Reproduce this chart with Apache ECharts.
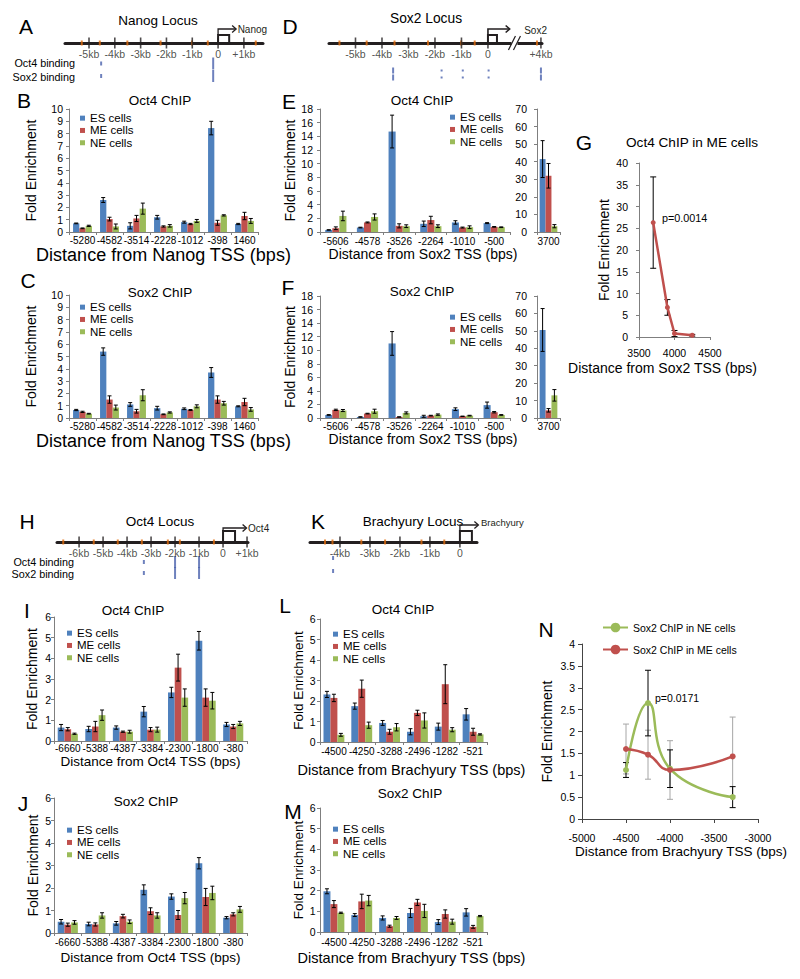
<!DOCTYPE html>
<html><head><meta charset="utf-8">
<script src="https://cdn.jsdelivr.net/npm/echarts@6/dist/echarts.min.js"></script>
<style>html,body{margin:0;padding:0;background:#fff}#c{width:800px;height:979px}</style>
</head><body><div id="c"></div>
<script>
// ================= DATA =================
// Nanog locus primers (bp from TSS) - panels A, B, C
const nanogCats = ['-5280','-4582','-3514','-2228','-1012','-398','1460'];
const nanogOct4_ES    = [0.70, 2.60, 0.50, 1.20, 0.80, 8.45, 0.65];
const nanogOct4_ESerr = [0.03, 0.20, 0.25, 0.15, 0.08, 0.55, 0.05];
const nanogOct4_ME    = [0.30, 1.05, 1.10, 0.45, 0.65, 0.75, 1.30];
const nanogOct4_MEerr = [0.03, 0.15, 0.25, 0.05, 0.05, 0.20, 0.30];
const nanogOct4_NE    = [0.50, 0.45, 1.90, 0.50, 0.90, 1.35, 0.90];
const nanogOct4_NEerr = [0.05, 0.20, 0.45, 0.10, 0.12, 0.05, 0.20];
const nanogSox2_ES    = [0.65, 5.40, 1.10, 0.80, 0.75, 3.70, 0.95];
const nanogSox2_ESerr = [0.05, 0.30, 0.15, 0.15, 0.07, 0.40, 0.04];
const nanogSox2_ME    = [0.50, 1.50, 0.55, 0.30, 0.65, 1.50, 1.30];
const nanogSox2_MEerr = [0.05, 0.30, 0.15, 0.03, 0.04, 0.30, 0.30];
const nanogSox2_NE    = [0.35, 0.85, 1.85, 0.45, 0.95, 1.20, 0.70];
const nanogSox2_NEerr = [0.03, 0.20, 0.45, 0.05, 0.12, 0.15, 0.15];

// Sox2 locus - panels D, E, F
const sox2Cats    = ['-5606','-4578','-3526','-2264','-1010','-500'];
const sox2FarCats = ['3700'];
const sox2Oct4_ES    = [0.30, 0.65, 14.7, 1.20, 1.40, 1.30];
const sox2Oct4_ESerr = [0.03, 0.05, 2.40, 0.40, 0.25, 0.07];
const sox2Oct4_ME    = [0.55, 1.40, 0.90, 1.75, 0.65, 0.75];
const sox2Oct4_MEerr = [0.20, 0.07, 0.30, 0.55, 0.07, 0.05];
const sox2Oct4_NE    = [2.35, 2.20, 0.85, 0.85, 0.70, 0.70];
const sox2Oct4_NEerr = [0.70, 0.45, 0.20, 0.20, 0.20, 0.05];
const sox2Oct4Far_ES = [41.5], sox2Oct4Far_ESerr = [10.5];
const sox2Oct4Far_ME = [32.0], sox2Oct4Far_MEerr = [7.0];
const sox2Oct4Far_NE = [3.3],  sox2Oct4Far_NEerr = [0.9];
const sox2Sox2_ES    = [0.45, 0.15, 11.0, 0.25, 1.30, 1.90];
const sox2Sox2_ESerr = [0.05, 0.03, 1.75, 0.15, 0.20, 0.45];
const sox2Sox2_ME    = [1.20, 0.65, 0.15, 0.35, 0.25, 0.85];
const sox2Sox2_MEerr = [0.10, 0.05, 0.03, 0.05, 0.03, 0.10];
const sox2Sox2_NE    = [1.10, 1.00, 0.75, 0.50, 0.35, 0.45];
const sox2Sox2_NEerr = [0.15, 0.30, 0.15, 0.10, 0.05, 0.05];
const sox2Sox2Far_ES = [50.5], sox2Sox2Far_ESerr = [12.3];
const sox2Sox2Far_ME = [4.4],  sox2Sox2Far_MEerr = [1.0];
const sox2Sox2Far_NE = [13.0], sox2Sox2Far_NEerr = [3.3];

// Panel G: Oct4 ChIP in ME cells
const gDist  = [3700, 3900, 4000, 4250];
const gME    = [26.3, 6.8, 0.8, 0.4];
const gMEerr = [10.5, 1.8, 0.7, 0.2];

// Oct4 locus - panels H, I, J
const oct4Cats = ['-6660','-5388','-4387','-3384','-2300','-1800','-380'];
const oct4Oct4_ES    = [0.65, 0.58, 0.65, 1.42, 2.35, 4.85, 0.80];
const oct4Oct4_ESerr = [0.15, 0.13, 0.08, 0.25, 0.25, 0.45, 0.10];
const oct4Oct4_ME    = [0.57, 0.70, 0.45, 0.55, 3.55, 2.10, 0.70];
const oct4Oct4_MEerr = [0.08, 0.25, 0.03, 0.10, 0.65, 0.42, 0.10];
const oct4Oct4_NE    = [0.35, 1.25, 0.45, 0.55, 2.10, 1.95, 0.85];
const oct4Oct4_NEerr = [0.03, 0.25, 0.07, 0.12, 0.42, 0.40, 0.10];
const oct4Sox2_ES    = [0.50, 0.40, 0.43, 1.92, 1.62, 3.10, 0.68];
const oct4Sox2_ESerr = [0.10, 0.08, 0.08, 0.22, 0.12, 0.25, 0.05];
const oct4Sox2_ME    = [0.37, 0.38, 0.75, 0.97, 0.80, 1.60, 0.83];
const oct4Sox2_MEerr = [0.07, 0.07, 0.08, 0.15, 0.20, 0.38, 0.07];
const oct4Sox2_NE    = [0.47, 0.78, 0.50, 0.78, 1.55, 1.78, 1.05];
const oct4Sox2_NEerr = [0.08, 0.12, 0.08, 0.12, 0.25, 0.30, 0.13];

// Brachyury locus - panels K, L, M
const brachCats = ['-4500','-4250','-3288','-2496','-1282','-521'];
const brachOct4_ES    = [2.32, 1.75, 0.93, 0.50, 0.75, 1.35];
const brachOct4_ESerr = [0.15, 0.15, 0.12, 0.15, 0.17, 0.28];
const brachOct4_ME    = [2.15, 2.60, 0.50, 1.42, 2.82, 0.50];
const brachOct4_MEerr = [0.18, 0.42, 0.12, 0.13, 0.95, 0.17];
const brachOct4_NE    = [0.35, 0.82, 0.72, 1.05, 0.60, 0.37];
const brachOct4_NEerr = [0.07, 0.15, 0.18, 0.37, 0.10, 0.03];
const brachSox2_ES    = [1.97, 0.82, 0.68, 0.92, 0.48, 0.95];
const brachSox2_ESerr = [0.12, 0.07, 0.10, 0.22, 0.12, 0.18];
const brachSox2_ME    = [1.35, 1.48, 0.28, 1.43, 0.87, 0.25];
const brachSox2_MEerr = [0.17, 0.35, 0.05, 0.15, 0.20, 0.07];
const brachSox2_NE    = [0.93, 1.52, 0.68, 1.02, 0.50, 0.77];
const brachSox2_NEerr = [0.03, 0.25, 0.07, 0.32, 0.12, 0.03];

// Panel N
const nDist  = [-4500, -4250, -4000, -3288];
const nNE    = [1.12, 2.65, 1.15, 0.50];
const nNEerr = [0.17, 0.75, 0.43, 0.24];
const nME    = [1.60, 1.47, 1.12, 1.43];
const nMEerr = [0.57, 0.56, 0.67, 0.90];

// Locus schematics: tick positions (kb) and binding sites [kb, strength]
const nanogTicks = [-5, -4, -3, -2, -1, 0, 1];
const sox2Ticks  = [-5, -4, -3, -2, -1, 0, 4];
const oct4Ticks  = [-6, -5, -4, -3, -2, -1, 0, 1];
const brachTicks = [-4, -3, -2, -1, 0];
const nanogOct4Bind = [[-4.53, 1], [-0.19, 3]];
const nanogSox2Bind = [[-4.53, 1], [-0.19, 3]];
const sox2Oct4Bind  = [[-3.58, 2], [-1.75, 0], [-0.95, 0], [0.05, 0], [4.0, 2]];
const sox2Sox2Bind  = [[-3.58, 2], [-1.75, 0], [-0.95, 0], [0.05, 0], [4.0, 2]];
const oct4Oct4Bind  = [[-3.3, 1], [-2.0, 3], [-1.0, 3]];
const oct4Sox2Bind  = [[-3.3, 1], [-2.0, 3], [-1.0, 3]];
const brachOct4Bind = [[-4.23, 1]];
const brachSox2Bind = [[-4.23, 1]];

// ================= CHART =================
const FONT = '"Liberation Sans", Arial, Helvetica, sans-serif';
const AX = '#7f7f7f';
const C_ES = '#4f81bd', C_ME = '#c0504d', C_NE = '#9bbb59';
const INK = '#231f20';
const DASH_H = [2, 4, 6, 12];
const grids = [], xAxes = [], yAxes = [], series = [], legends = [], gfx = [];

function addGrid(l, t, w, h) { grids.push({left: l, top: t, width: w, height: h}); return grids.length - 1; }
const tickLabel = v => v === 0 ? '0' : (v > 0 ? '+' + v + 'kb' : v + 'kb');
const plainNum = v => String(v);

function errRender(k, n, gapFrac, color, capW) {
  return function (params, api) {
    const i = api.value(0), v = api.value(1), e = api.value(2);
    const band = api.size([1, 0])[0];
    const bw = band * (1 - gapFrac) / n;
    const x = api.coord([i, v])[0] + (k - (n - 1) / 2) * bw;
    const yt = api.coord([i, v + e])[1], yb = api.coord([i, Math.max(0, v - e)])[1];
    const c = capW || 2, st = {stroke: color || '#000', lineWidth: 1};
    return {type: 'group', children: [
      {type: 'line', shape: {x1: x, y1: yt, x2: x, y2: yb}, style: st},
      {type: 'line', shape: {x1: x - c, y1: yt, x2: x + c, y2: yt}, style: st},
      {type: 'line', shape: {x1: x - c, y1: yb, x2: x + c, y2: yb}, style: st}
    ]};
  };
}
function xyErrRender(color) {
  return function (params, api) {
    const x = api.value(0), v = api.value(1), e = api.value(2);
    const pt = api.coord([x, v + e]), pb = api.coord([x, Math.max(0, v - e)]);
    const st = {stroke: color, lineWidth: 1}, c = 3;
    return {type: 'group', children: [
      {type: 'line', shape: {x1: pt[0], y1: pt[1], x2: pb[0], y2: pb[1]}, style: st},
      {type: 'line', shape: {x1: pt[0] - c, y1: pt[1], x2: pt[0] + c, y2: pt[1]}, style: st},
      {type: 'line', shape: {x1: pb[0] - c, y1: pb[1], x2: pb[0] + c, y2: pb[1]}, style: st}
    ]};
  };
}

function barPanel(p) {
  const gi = addGrid.apply(null, p.rect);
  xAxes.push({type: 'category', gridIndex: gi, data: p.cats,
    axisLine: {show: true, lineStyle: {color: AX}}, axisTick: {show: true, length: 3, lineStyle: {color: AX}},
    axisLabel: {interval: 0, fontSize: 10, color: '#000', margin: p.labelMargin, fontFamily: FONT},
    name: p.xName || '', nameLocation: 'middle', nameGap: p.xNameGap || 10,
    nameTextStyle: {fontSize: p.xNameSize || 14, color: '#000', fontFamily: FONT, padding: p.xNamePad || 0}});
  yAxes.push({type: 'value', gridIndex: gi, min: 0, max: p.yMax, interval: p.yInt,
    axisLine: {show: true, lineStyle: {color: AX}}, axisTick: {show: true, length: 3, lineStyle: {color: AX}},
    splitLine: {show: false}, axisLabel: {fontSize: 10.5, color: '#000', margin: p.yLabelMargin, fontFamily: FONT},
    name: p.yName || '', nameLocation: 'middle', nameRotate: 90, nameGap: p.yNameGap || 10,
    nameTextStyle: {fontSize: p.yNameSize || 14, color: '#000', fontFamily: FONT}});
  const names = ['ES cells', 'ME cells', 'NE cells'], cols = [C_ES, C_ME, C_NE];
  p.sets.forEach((s, k) => {
    series.push({type: 'bar', name: names[k], xAxisIndex: gi, yAxisIndex: gi, data: s[0],
      itemStyle: {color: cols[k]}, barGap: '0%', barCategoryGap: (p.gap * 100) + '%', z: 2, silent: true});
  });
  p.sets.forEach((s, k) => {
    series.push({type: 'custom', xAxisIndex: gi, yAxisIndex: gi, renderItem: errRender(k, 3, p.gap),
      data: s[0].map((v, i) => [i, v, s[1][i]]), z: 5, silent: true, clip: false});
  });
  if (p.legend) legends.push({data: names, orient: 'vertical', left: p.legend[0], top: p.legend[1], padding: 0,
    itemWidth: 5, itemHeight: 5, itemGap: 0, icon: 'rect', selectedMode: false,
    textStyle: {fontSize: 11.5, lineHeight: 12.3, color: '#000', fontFamily: FONT}});
}

function geneRender(g) {
  return function (params, api) {
    const o = api.coord([0, 0]);
    const bx = api.coord([g.boxEnd, 0])[0];
    const ax = api.coord([g.arrowEnd, 0])[0];
    const ry = o[1] + g.rise, top = o[1] - g.boxH;
    const st = {fill: null, stroke: INK, lineWidth: g.lw || 1.3};
    const ch = [
      {type: 'rect', shape: {x: o[0], y: top, width: bx - o[0], height: g.boxH}, style: {fill: '#fff', stroke: INK, lineWidth: 2}},
      {type: 'polyline', shape: {points: [[o[0], top], [o[0], ry], [ax, ry]]}, style: st},
      {type: 'polyline', shape: {points: [[ax - 3.5, ry - 3.5], [ax + 0.5, ry], [ax - 3.5, ry + 3.5]]}, style: st},
      {type: 'text', x: ax + g.dx, y: ry + g.dy, style: {text: g.name, font: g.fs + 'px ' + FONT, fontSize: g.fs, fill: INK,
        textAlign: 'left', textVerticalAlign: 'middle', align: 'left', verticalAlign: 'middle'}}
    ];
    if (g.brk != null) {
      const b = api.coord([g.brk, 0])[0];
      ch.push({type: 'rect', shape: {x: b - 3, y: o[1] - 3, width: 6, height: 6}, style: {fill: '#fff'}});
      ch.push({type: 'line', shape: {x1: b - 6, y1: o[1] + 7, x2: b + 1, y2: o[1] - 7}, style: {stroke: INK, lineWidth: 1.2}});
      ch.push({type: 'line', shape: {x1: b - 1, y1: o[1] + 7, x2: b + 6, y2: o[1] - 7}, style: {stroke: INK, lineWidth: 1.2}});
    }
    return {type: 'group', children: ch};
  };
}

function locus(p) {
  const gi = addGrid(p.x0, p.lineY - 25, p.x1 - p.x0, 70);
  const f = p.disp || (v => v);
  xAxes.push({type: 'value', gridIndex: gi, min: p.min, max: p.max,
    axisLine: {show: true, onZero: true, lineStyle: {color: INK, width: 3}},
    axisTick: {show: false}, axisLabel: {show: false}, splitLine: {show: false}});
  yAxes.push({type: 'value', gridIndex: gi, min: -25, max: 45, inverse: true,
    axisLine: {show: false}, axisTick: {show: false}, axisLabel: {show: false}, splitLine: {show: false}});
  const base = {xAxisIndex: gi, yAxisIndex: gi, silent: true, clip: false};
  series.push(Object.assign({type: 'scatter', data: p.ticks.map(t => [f(t), 0]), symbol: 'rect', symbolSize: [1.6, 11],
    itemStyle: {color: INK}, z: 4,
    label: {show: true, position: 'inside', offset: [0, 10.5], fontSize: 10.5, color: INK, fontFamily: FONT,
      formatter: q => tickLabel(p.ticks[q.dataIndex])}}, base));
  series.push(Object.assign({type: 'scatter', data: p.primers.map(c => [f(Number(c) / 1000), 0]), symbol: 'rect',
    symbolSize: [2, 5], itemStyle: {color: '#e26b0a'}, z: 3}, base));
  p.binds.forEach((row, r) => {
    series.push(Object.assign({type: 'scatter', data: row.map(b => [f(b[0]), p.rows[r], b[1]]), symbol: 'rect',
      symbolSize: v => [2, DASH_H[v[2]]], itemStyle: {color: '#4a62ad'}, z: 3}, base));
  });
  series.push(Object.assign({type: 'custom', data: [[0, 0]], renderItem: geneRender(p.gene), z: 5}, base));
}

// ---------- Locus schematics ----------
const sox2Disp = v => v <= 0 ? v : v / 2;
locus({x0: 65, x1: 263, lineY: 43, min: -5.93, max: 1.74, ticks: nanogTicks, primers: nanogCats,
  rows: [20.5, 33], binds: [nanogOct4Bind, nanogSox2Bind],
  gene: {boxEnd: 0.43, boxH: 8, rise: -14, arrowEnd: 0.68, name: 'Nanog', dx: 2, dy: 0, fs: 10}});
locus({x0: 329, x1: 542, lineY: 43, min: -6.0, max: 2.04, ticks: sox2Ticks, primers: sox2Cats.concat(sox2FarCats),
  disp: sox2Disp, rows: [27.5, 34.5], binds: [sox2Oct4Bind, sox2Sox2Bind],
  gene: {boxEnd: 0.34, boxH: 8, rise: -14, arrowEnd: 0.8, name: 'Sox2', dx: 15, dy: 1, fs: 10, lw: 1.6, brk: 1.0}});
locus({x0: 57, x1: 248, lineY: 542, min: -6.92, max: 1.04, ticks: oct4Ticks, primers: oct4Cats,
  rows: [20, 31], binds: [oct4Oct4Bind, oct4Sox2Bind],
  gene: {boxEnd: 0.5, boxH: 11, rise: -14, arrowEnd: 0.96, name: 'Oct4', dx: 2, dy: 0, fs: 10}});
locus({x0: 310, x1: 477, lineY: 542, min: -5.0, max: 0.57, ticks: brachTicks, primers: brachCats,
  rows: [16, 29], binds: [brachOct4Bind, brachSox2Bind],
  gene: {boxEnd: 0.4, boxH: 11, rise: -17, arrowEnd: 0.6, name: 'Brachyury', dx: 3, dy: -3, fs: 9.5}});

// ---------- Bar panels ----------
barPanel({rect: [69, 109, 189, 123], cats: nanogCats,
  sets: [[nanogOct4_ES, nanogOct4_ESerr], [nanogOct4_ME, nanogOct4_MEerr], [nanogOct4_NE, nanogOct4_NEerr]],
  yMax: 10, yInt: 1, gap: 0.30, xName: 'Distance from Nanog TSS (bps)', xNameSize: 18, xNameGap: 11,
  yName: 'Fold Enrichment', yNameGap: 31.5, labelMargin: 3.5, yLabelMargin: 6, legend: [80, 112]});
barPanel({rect: [69, 295, 189, 123], cats: nanogCats,
  sets: [[nanogSox2_ES, nanogSox2_ESerr], [nanogSox2_ME, nanogSox2_MEerr], [nanogSox2_NE, nanogSox2_NEerr]],
  yMax: 10, yInt: 1, gap: 0.30, xName: 'Distance from Nanog TSS (bps)', xNameSize: 18, xNameGap: 12,
  yName: 'Fold Enrichment', yNameGap: 31.5, labelMargin: 3.5, yLabelMargin: 6, legend: [80, 301]});
barPanel({rect: [320, 109, 190, 123], cats: sox2Cats,
  sets: [[sox2Oct4_ES, sox2Oct4_ESerr], [sox2Oct4_ME, sox2Oct4_MEerr], [sox2Oct4_NE, sox2Oct4_NEerr]],
  yMax: 18, yInt: 2, gap: 0.33, xName: 'Distance from Sox2 TSS (bps)', xNameSize: 14, xNameGap: 12.5, xNamePad: [0, 0, 0, 16],
  yName: 'Fold Enrichment', yNameGap: 21, labelMargin: 4.5, yLabelMargin: 7, legend: [450, 111]});
barPanel({rect: [537, 109, 23, 123], cats: sox2FarCats,
  sets: [[sox2Oct4Far_ES, sox2Oct4Far_ESerr], [sox2Oct4Far_ME, sox2Oct4Far_MEerr], [sox2Oct4Far_NE, sox2Oct4Far_NEerr]],
  yMax: 70, yInt: 10, gap: 0.23, labelMargin: 4.5, yLabelMargin: 10});
barPanel({rect: [320, 296, 190, 122], cats: sox2Cats,
  sets: [[sox2Sox2_ES, sox2Sox2_ESerr], [sox2Sox2_ME, sox2Sox2_MEerr], [sox2Sox2_NE, sox2Sox2_NEerr]],
  yMax: 18, yInt: 2, gap: 0.33, xName: 'Distance from Sox2 TSS (bps)', xNameSize: 14, xNameGap: 13.5, xNamePad: [0, 0, 0, 16],
  yName: 'Fold Enrichment', yNameGap: 19.5, labelMargin: 3.5, yLabelMargin: 7, legend: [450, 311]});
barPanel({rect: [537, 296, 23, 122], cats: sox2FarCats,
  sets: [[sox2Sox2Far_ES, sox2Sox2Far_ESerr], [sox2Sox2Far_ME, sox2Sox2Far_MEerr], [sox2Sox2Far_NE, sox2Sox2Far_NEerr]],
  yMax: 70, yInt: 10, gap: 0.23, labelMargin: 3.5, yLabelMargin: 10});
barPanel({rect: [54, 617, 193, 124], cats: oct4Cats,
  sets: [[oct4Oct4_ES, oct4Oct4_ESerr], [oct4Oct4_ME, oct4Oct4_MEerr], [oct4Oct4_NE, oct4Oct4_NEerr]],
  yMax: 6, yInt: 1, gap: 0.27, xName: 'Distance from Oct4 TSS (bps)', xNameSize: 13.5, xNameGap: 13,
  yName: 'Fold Enrichment', yNameGap: 15, labelMargin: 2, yLabelMargin: 3, legend: [67, 627]});
barPanel({rect: [54, 798, 193, 135], cats: oct4Cats,
  sets: [[oct4Sox2_ES, oct4Sox2_ESerr], [oct4Sox2_ME, oct4Sox2_MEerr], [oct4Sox2_NE, oct4Sox2_NEerr]],
  yMax: 6, yInt: 1, gap: 0.27, xName: 'Distance from Oct4 TSS (bps)', xNameSize: 13.5, xNameGap: 17,
  yName: 'Fold Enrichment', yNameGap: 14, labelMargin: 4.5, yLabelMargin: 3, legend: [67, 824]});
barPanel({rect: [320, 619, 167, 123], cats: brachCats,
  sets: [[brachOct4_ES, brachOct4_ESerr], [brachOct4_ME, brachOct4_MEerr], [brachOct4_NE, brachOct4_NEerr]],
  yMax: 6, yInt: 1, gap: 0.25, xName: 'Distance from Brachyury TSS (bps)', xNameSize: 14.5, xNameGap: 20, xNamePad: [0, 0, 0, 16],
  yName: 'Fold Enrichment', yNameSize: 13.5, yNameGap: 13.5, labelMargin: 4, yLabelMargin: 4.5, legend: [333, 628]});
barPanel({rect: [320, 808, 167, 124], cats: brachCats,
  sets: [[brachSox2_ES, brachSox2_ESerr], [brachSox2_ME, brachSox2_MEerr], [brachSox2_NE, brachSox2_NEerr]],
  yMax: 6, yInt: 1, gap: 0.25, xName: 'Distance from Brachyury TSS (bps)', xNameSize: 14.5, xNameGap: 18, xNamePad: [0, 0, 0, 16],
  yName: 'Fold Enrichment', yNameSize: 13.5, yNameGap: 13.5, labelMargin: 5, yLabelMargin: 4.5, legend: [333, 823]});

// ---------- Panel G ----------
(function () {
  const gi = addGrid(639, 163, 71, 174);
  xAxes.push({type: 'value', gridIndex: gi, min: 3500, max: 4500, interval: 500,
    axisLine: {show: true, onZero: false, lineStyle: {color: AX}}, axisTick: {show: true, length: 3, lineStyle: {color: AX}},
    splitLine: {show: false}, axisLabel: {fontSize: 10.5, color: '#000', margin: 10, showMinLabel: true, showMaxLabel: true,
      fontFamily: FONT, formatter: plainNum},
    name: 'Distance from Sox2 TSS (bps)', nameLocation: 'middle', nameGap: 24,
    nameTextStyle: {fontSize: 14, color: '#000', fontFamily: FONT, padding: [0, 24, 0, 0]}});
  yAxes.push({type: 'value', gridIndex: gi, min: 0, max: 40, interval: 5,
    axisLine: {show: true, onZero: false, lineStyle: {color: AX}}, axisTick: {show: true, length: 3, lineStyle: {color: AX}},
    splitLine: {show: false}, axisLabel: {fontSize: 10.5, color: '#000', margin: 11, fontFamily: FONT},
    name: 'Fold Enrichment', nameLocation: 'middle', nameRotate: 90, nameGap: 28,
    nameTextStyle: {fontSize: 14, color: '#000', fontFamily: FONT}});
  series.push({type: 'custom', xAxisIndex: gi, yAxisIndex: gi, renderItem: xyErrRender('#000'),
    data: gDist.map((x, i) => [x, gME[i], gMEerr[i]]), z: 3, silent: true, clip: false});
  series.push({type: 'line', xAxisIndex: gi, yAxisIndex: gi, data: gDist.map((x, i) => [x, gME[i]]),
    lineStyle: {color: C_ME, width: 2.5}, itemStyle: {color: C_ME}, symbol: 'circle', symbolSize: 5, z: 4, silent: true});
})();

// ---------- Panel N ----------
(function () {
  const gi = addGrid(582, 644, 176, 175);
  xAxes.push({type: 'value', gridIndex: gi, min: -5000, max: -3000, interval: 500,
    axisLine: {show: true, onZero: false, lineStyle: {color: '#444'}}, axisTick: {show: true, length: 4, lineStyle: {color: '#444'}},
    splitLine: {show: false}, axisLabel: {fontSize: 10.5, color: '#000', margin: 13.5, showMinLabel: true, showMaxLabel: true,
      fontFamily: FONT, formatter: plainNum},
    name: 'Distance from Brachyury TSS (bps)', nameLocation: 'middle', nameGap: 25,
    nameTextStyle: {fontSize: 13.5, color: '#000', fontFamily: FONT, padding: [0, 0, 0, 22]}});
  yAxes.push({type: 'value', gridIndex: gi, min: 0, max: 4, interval: 0.5,
    axisLine: {show: true, onZero: false, lineStyle: {color: '#444'}}, axisTick: {show: true, length: 4, lineStyle: {color: '#444'}},
    splitLine: {show: false}, axisLabel: {fontSize: 10.5, color: '#000', margin: 7, fontFamily: FONT},
    name: 'Fold Enrichment', nameLocation: 'middle', nameRotate: 90, nameGap: 28,
    nameTextStyle: {fontSize: 14, color: '#000', fontFamily: FONT}});
  series.push({type: 'custom', xAxisIndex: gi, yAxisIndex: gi, renderItem: xyErrRender('#a6a6a6'),
    data: nDist.map((x, i) => [x, nME[i], nMEerr[i]]), z: 3, silent: true, clip: false});
  series.push({type: 'custom', xAxisIndex: gi, yAxisIndex: gi, renderItem: xyErrRender('#000'),
    data: nDist.map((x, i) => [x, nNE[i], nNEerr[i]]), z: 3, silent: true, clip: false});
  series.push({type: 'line', name: 'Sox2 ChIP in NE cells', xAxisIndex: gi, yAxisIndex: gi, smooth: true,
    data: nDist.map((x, i) => [x, nNE[i]]), lineStyle: {color: C_NE, width: 2.5}, itemStyle: {color: C_NE},
    symbol: 'circle', symbolSize: 6, z: 4, silent: true});
  series.push({type: 'line', name: 'Sox2 ChIP in ME cells', xAxisIndex: gi, yAxisIndex: gi, smooth: true,
    data: nDist.map((x, i) => [x, nME[i]]), lineStyle: {color: C_ME, width: 2.5}, itemStyle: {color: C_ME},
    symbol: 'circle', symbolSize: 6, z: 5, silent: true});
  legends.push({data: ['Sox2 ChIP in NE cells', 'Sox2 ChIP in ME cells'], orient: 'vertical', left: 602, top: 622, padding: 0,
    itemWidth: 25, itemHeight: 12, itemGap: 11, selectedMode: false,
    textStyle: {fontSize: 10.5, color: '#000', fontFamily: FONT}});
})();

// ---------- Texts ----------
function T(text, x, y, fs, align) {
  const a = align || 'center';
  return {type: 'text', x: x, y: y, silent: true, style: {text: text, font: fs + 'px ' + FONT, fontSize: fs, fontFamily: FONT, fill: '#000',
    textAlign: a, textVerticalAlign: 'middle', align: a, verticalAlign: 'middle'}};
}
[['A', 26, 26], ['D', 290, 26], ['B', 24, 100], ['C', 28, 280], ['E', 289, 101], ['F', 288, 287], ['G', 584, 142],
 ['H', 27, 521], ['K', 318, 521], ['I', 27, 610], ['L', 285, 605], ['J', 23, 803], ['M', 293, 811], ['N', 546, 629]]
  .forEach(d => gfx.push(T(d[0], d[1], d[2], 21)));
[['Nanog Locus', 158, 20, 13.5], ['Sox2 Locus', 426, 18, 13.8], ['Oct4 Locus', 160, 521, 13.5], ['Brachyury Locus', 413, 521, 13.5],
 ['Oct4 ChIP', 160, 100, 13.5], ['Sox2 ChIP', 160, 292, 13.5], ['Oct4 ChIP', 422, 100, 13.5], ['Sox2 ChIP', 422, 291, 13.5],
 ['Oct4 ChIP in ME cells', 692, 142, 13.6], ['Oct4 ChIP', 133, 610, 13.5], ['Sox2 ChIP', 146, 801, 13.5],
 ['Oct4 ChIP', 403, 609, 13.5], ['Sox2 ChIP', 410, 793, 13.5]]
  .forEach(d => gfx.push(T(d[0], d[1], d[2], d[3])));
gfx.push(T('Oct4 binding', 75, 63, 10.8, 'right'));
gfx.push(T('Sox2 binding', 75, 77, 10.8, 'right'));
gfx.push(T('Oct4 binding', 74, 562, 10.8, 'right'));
gfx.push(T('Sox2 binding', 74, 574, 10.8, 'right'));
gfx.push(T('p=0.0014', 662, 218, 10.8, 'left'));
gfx.push(T('p=0.0171', 655, 698, 10.5, 'left'));

const chart = echarts.init(document.getElementById('c'), null, {renderer: 'svg', width: 800, height: 979});
chart.setOption({
  animation: false,
  backgroundColor: '#fff',
  textStyle: {fontFamily: FONT, color: '#000'},
  grid: grids, xAxis: xAxes, yAxis: yAxes, series: series, legend: legends,
  graphic: {elements: gfx}
});
</script>
</body></html>
